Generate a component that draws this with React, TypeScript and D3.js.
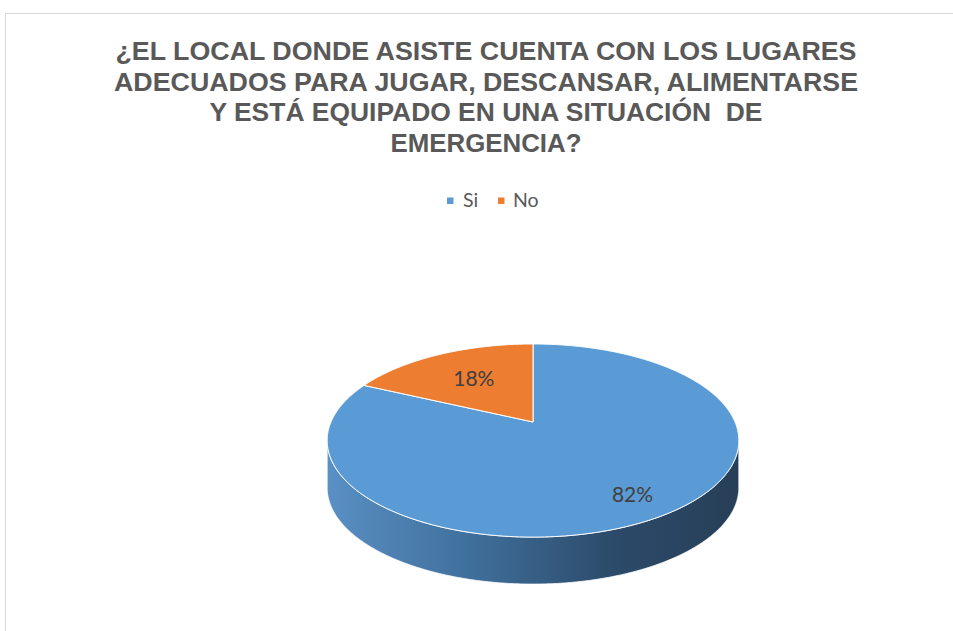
import React from "react";
import * as d3 from "d3";

const titleLines = [
  "¿EL LOCAL DONDE ASISTE CUENTA CON LOS LUGARES",
  "ADECUADOS PARA JUGAR, DESCANSAR, ALIMENTARSE",
  "Y ESTÁ EQUIPADO EN UNA SITUACIÓN  DE",
  "EMERGENCIA?",
];
const categories = ["Si", "No"];
const values = [82, 18];
const labels = ["82%", "18%"];

const W = 953;
const H = 631;
const colors = ["#5b9bd5", "#ed7d31"];

// perspective projection parameters
const cx = 533;
const cy = 422;
const a = 202;
const b = 93;
const k = 0.192;
const depth = 47;

function proj(theta: number, r = 1, dy = 0): [number, number] {
  const u = r * Math.sin(theta);
  const v = r * Math.cos(theta);
  const s = 1 / (1 + k * v);
  return [cx + a * u * s, cy - b * v * s + dy];
}

function arcPts(t0: number, t1: number, dy = 0): [number, number][] {
  const n = Math.max(2, Math.ceil(Math.abs(t1 - t0) / 0.01));
  return d3.range(n + 1).map((i) => proj(t0 + ((t1 - t0) * i) / n, 1, dy));
}

const lineGen = d3.line();

export default function App() {
  const arcs = d3.pie<number>().sort(null).startAngle(0).endAngle(2 * Math.PI)(values);
  const front0 = Math.acos(-k);
  const front1 = 2 * Math.PI - front0;
  const xs = [cx - a / Math.sqrt(1 - k * k), cx + a / Math.sqrt(1 - k * k)];
  const labelR = [0.8, 0.6];

  const sides = arcs
    .map((d, i) => {
      const s0 = Math.max(d.startAngle, front0);
      const s1 = Math.min(d.endAngle, front1);
      if (s1 <= s0) return null;
      const top = arcPts(s0, s1);
      const bot = arcPts(s1, s0, depth);
      return { i, path: lineGen([...top, ...bot])! + "Z" };
    })
    .filter(Boolean) as { i: number; path: string }[];

  const tops = arcs.map((d, i) => {
    const pts = [[cx, cy] as [number, number], ...arcPts(d.startAngle, d.endAngle)];
    return { i, path: lineGen(pts)! + "Z" };
  });

  const titleX = 486;
  const titleBase = [60, 91, 121, 152];
  const titleLens = [741, 744, 553, 191];

  return (
    <svg
      width={W}
      height={H}
      style={{ position: "absolute", left: 0, top: 0, background: "#fff" }}
    >
      <defs>
        <linearGradient id="sideGrad" gradientUnits="userSpaceOnUse" x1={xs[0]} x2={xs[1]} y1={0} y2={0}>
          <stop offset="0%" stopColor="#5a90c4" />
          <stop offset="35%" stopColor="#3f6f9b" />
          <stop offset="70%" stopColor="#2c4a69" />
          <stop offset="100%" stopColor="#273f58" />
        </linearGradient>
      </defs>
      <rect x={0} y={0} width={W} height={H} fill="#fff" />
      <path d={`M5.5,${H} V13.5 H${W}`} fill="none" stroke="#d9d9d9" strokeWidth={1} />
      {titleLines.map((t, i) => (
        <text
          key={i}
          x={titleX}
          y={titleBase[i]}
          textAnchor="middle"
          fontFamily="'Liberation Sans', Arial, sans-serif"
          fontWeight="bold"
          fontSize={25}
          fill="#595959"
          textLength={titleLens[i]}
          lengthAdjust="spacingAndGlyphs"
          style={{ whiteSpace: "pre" }}
        >
          {t}
        </text>
      ))}
      <g fontFamily="Lato, 'Noto Sans', sans-serif" fontSize={19.5} fill="#595959">
        <rect x={447} y={197.5} width={6.5} height={6.5} fill={colors[0]} />
        <text x={463} y={207}>{categories[0]}</text>
        <rect x={498} y={197.5} width={6.5} height={6.5} fill={colors[1]} />
        <text x={513} y={207}>{categories[1]}</text>
      </g>
      {sides.map((s) => (
        <path key={"s" + s.i} d={s.path} fill="url(#sideGrad)" stroke="#fff" strokeWidth={0.8} />
      ))}
      {tops.map((t) => (
        <path key={"t" + t.i} d={t.path} fill={colors[t.i]} stroke="#fff" strokeWidth={1} strokeLinejoin="round" />
      ))}
      {arcs.map((d, i) => {
        const mid = (d.startAngle + d.endAngle) / 2;
        const [x, y] = proj(mid, labelR[i]);
        return (
          <text
            key={"l" + i}
            x={x}
            y={y}
            dy="0.35em"
            textAnchor="middle"
            fontFamily="Lato, 'Noto Sans', sans-serif"
            fontSize={21}
            fill="#404040"
          >
            {labels[i]}
          </text>
        );
      })}
    </svg>
  );
}
